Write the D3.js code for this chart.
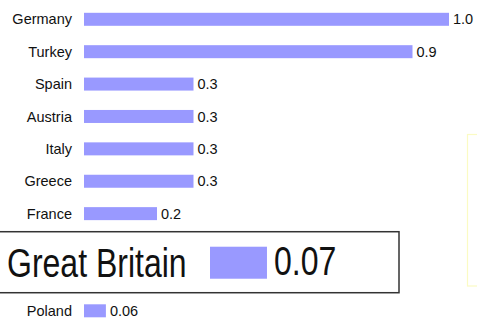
<!DOCTYPE html>
<html>
<head>
<meta charset="utf-8">
<script src="https://cdn.jsdelivr.net/npm/d3@7"></script>
<style>
  html, body { margin: 0; padding: 0; background: #fff; }
  svg { display: block; }
  text { font-family: "Liberation Sans", Arial, sans-serif; fill: #111; }
</style>
</head>
<body>
<svg id="chart" width="477" height="320"></svg>
<script>
// Country values
const categories = ["Germany", "Turkey", "Spain", "Austria", "Italy", "Greece", "France", "Great Britain", "Poland"];
const values = [1.0, 0.9, 0.3, 0.3, 0.3, 0.3, 0.2, 0.07, 0.06];
const valueLabels = ["1.0", "0.9", "0.3", "0.3", "0.3", "0.3", "0.2", "0.07", "0.06"];
const highlighted = "Great Britain";

const svg = d3.select("#chart");
const barColor = "#9999ff";
const fontSize = 14.5;
const zoomK = 32 / fontSize;           // magnification of the highlighted row
const hiIndex = categories.indexOf(highlighted);

const rows = categories.map((c, i) => ({ name: c, value: values[i], label: valueLabels[i], i }));

// The highlighted row takes up two slots
const slotOf = i => i < hiIndex ? i : (i === hiIndex ? i + 0.5 : i + 1);
const y = d3.scaleLinear().domain([0, categories.length]).range([19.3, 310.8]);
const x = d3.scaleLinear().domain([0, 1]).range([84, 449]);
const barH = 13;

// faint side panel outline
svg.append("rect")
  .attr("x", 467.5).attr("y", 134.5)
  .attr("width", 30).attr("height", 151.5)
  .attr("fill", "none")
  .attr("stroke", "#fbfbc4")
  .attr("stroke-width", 1.2);

const normal = rows.filter(d => d.name !== highlighted);
const g = svg.append("g");

g.selectAll("rect.bar").data(normal).join("rect")
  .attr("class", "bar")
  .attr("x", x(0))
  .attr("y", d => y(slotOf(d.i)) - barH / 2)
  .attr("width", d => x(d.value) - x(0))
  .attr("height", barH)
  .attr("fill", barColor);

g.selectAll("text.cat").data(normal).join("text")
  .attr("class", "cat")
  .attr("x", 72)
  .attr("y", d => y(slotOf(d.i)))
  .attr("dy", "0.35em")
  .attr("text-anchor", "end")
  .attr("font-size", fontSize)
  .text(d => d.name);

g.selectAll("text.val").data(normal).join("text")
  .attr("class", "val")
  .attr("x", d => x(d.value) + 4)
  .attr("y", d => y(slotOf(d.i)))
  .attr("dy", "0.35em")
  .attr("font-size", fontSize)
  .text(d => d.label);

// Magnified callout for the highlighted country
const hi = rows[hiIndex];
const cy = y(slotOf(hiIndex));
const boxH = 61;
const callout = svg.append("g");
callout.append("rect")
  .attr("x", -2).attr("y", cy - boxH / 2)
  .attr("width", 401).attr("height", boxH)
  .attr("fill", "#fff")
  .attr("stroke", "#333")
  .attr("stroke-width", 1.5);

const xz = d3.scaleLinear().domain([0, 1]).range([210, 210 + (x(1) - x(0)) * 2.23]);
const zBarH = 32;
callout.append("rect")
  .attr("x", xz(0))
  .attr("y", cy - zBarH / 2 + 0.5)
  .attr("width", xz(hi.value) - xz(0))
  .attr("height", zBarH)
  .attr("fill", barColor);

// text is stretched vertically, like the magnified bar
const stretch = 1.25;
const big = callout.append("g")
  .attr("transform", `translate(0,${cy}) scale(1,${stretch})`);

big.append("text")
  .attr("x", 7)
  .attr("y", 0)
  .attr("dy", "0.36em")
  .attr("font-size", 32)
  .text(hi.name);

big.append("text")
  .attr("x", xz(hi.value) + 7)
  .attr("y", -1.2)
  .attr("dy", "0.36em")
  .attr("font-size", 32)
  .text(hi.label);
</script>
</body>
</html>
